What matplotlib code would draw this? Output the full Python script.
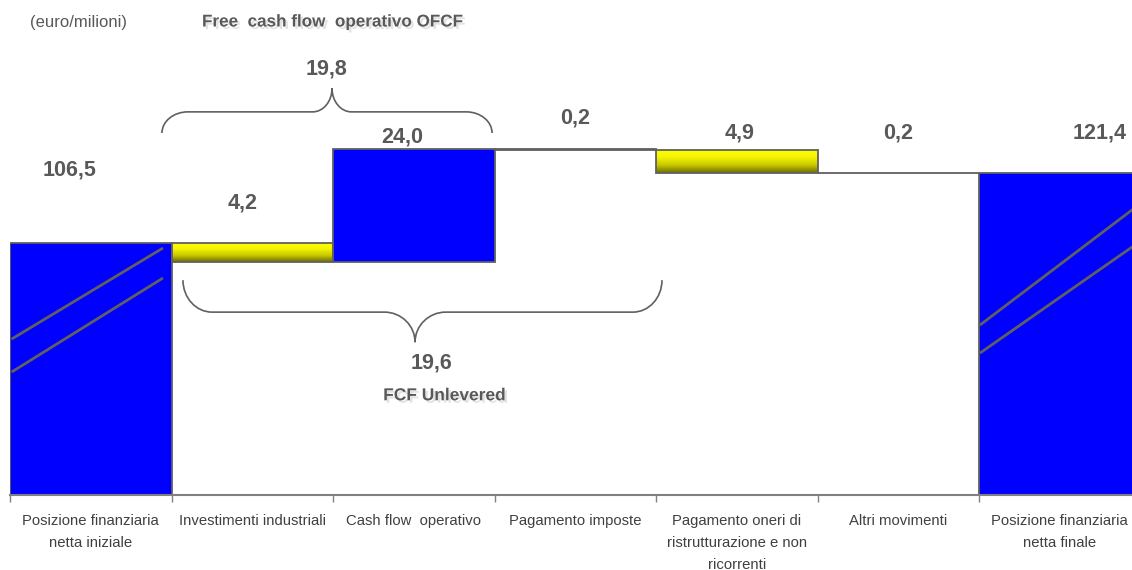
import numpy as np
import matplotlib
matplotlib.use("Agg")
import matplotlib.pyplot as plt
from matplotlib.patches import Rectangle, PathPatch
from matplotlib.path import Path
from matplotlib.colors import LinearSegmentedColormap
import matplotlib.patheffects as pe

plt.rcParams["font.family"] = ["Liberation Sans", "DejaVu Sans"]

# ── dati ────────────────────────────────────────────────
categories = [
    "Posizione finanziaria\nnetta iniziale",
    "Investimenti industriali",
    "Cash flow  operativo",
    "Pagamento imposte",
    "Pagamento oneri di\nristrutturazione e non\nricorrenti",
    "Altri movimenti",
    "Posizione finanziaria\nnetta finale",
]
values = [106.5, -4.2, 24.0, -0.2, -4.9, 0.2, 121.4]
is_total = [True, False, False, False, False, False, True]
ofcf_value = 19.8      # investimenti + cash flow operativo
fcf_unlev_value = 19.6  # fino al pagamento oneri

# posizioni etichette valori (coord. dati)
label_x = [-0.13, 0.94, 1.93, 3.0, 4.02, 5.0, 6.25]
label_y = [121.9, 114.9, 128.9, 133.0, 129.8, 129.8, 129.8]

BLUE = "#0000FF"
EDGE = "#606060"
TXT = "#595959"
yellow_cmap = LinearSegmentedColormap.from_list(
    "giallo", ["#6e6e00", "#c8c800", "#f5f500", "#ffff00"])


def fmt(v):
    return f"{abs(v):.1f}".replace(".", ",")


def brace(ax, x0, x1, xm, y_end, y_mid, y_tip, r_end, r_tip):
    k = 0.552
    verts = [
        (x0, y_end),
        (x0, y_end + k * (y_mid - y_end)), (x0 + (1 - k) * r_end, y_mid), (x0 + r_end, y_mid),
        (xm - r_tip, y_mid),
        (xm - r_tip + k * r_tip, y_mid), (xm, y_mid + (1 - k) * (y_tip - y_mid)), (xm, y_tip),
        (xm, y_mid + (1 - k) * (y_tip - y_mid)), (xm + r_tip - k * r_tip, y_mid), (xm + r_tip, y_mid),
        (x1 - r_end, y_mid),
        (x1 - (1 - k) * r_end, y_mid), (x1, y_end + k * (y_mid - y_end)), (x1, y_end),
    ]
    codes = [Path.MOVETO,
             Path.CURVE4, Path.CURVE4, Path.CURVE4,
             Path.LINETO,
             Path.CURVE4, Path.CURVE4, Path.CURVE4,
             Path.CURVE4, Path.CURVE4, Path.CURVE4,
             Path.LINETO,
             Path.CURVE4, Path.CURVE4, Path.CURVE4]
    ax.add_patch(PathPatch(Path(verts, codes), facecolor="none", edgecolor=EDGE,
                           lw=1.2, zorder=4))


fig = plt.figure(figsize=(11.32, 5.70), dpi=100)
ax = fig.add_axes([10 / 1132, 75.5 / 570, 1130.5 / 1132, 494.5 / 570])

ymin, ymax = 52.9, 158.1
x = np.arange(len(values))

# ── barre waterfall ─────────────────────────────────────
running = 0.0
for i, v in enumerate(values):
    if is_total[i]:
        bottom, top = 0.0, v
        running = v
        color = BLUE
    else:
        bottom, top = running, running + v
        running += v
        color = BLUE if v > 0 else None
    lo, hi = min(bottom, top), max(bottom, top)
    if color is not None:
        ax.add_patch(Rectangle((i - 0.5, lo), 1.0, hi - lo, facecolor=color,
                               edgecolor=EDGE, lw=1.3, zorder=2))
    else:
        rect = Rectangle((i - 0.5, lo), 1.0, hi - lo, facecolor="none",
                         edgecolor=EDGE, lw=1.3, zorder=3)
        ax.add_patch(rect)
        grad = np.linspace(0, 1, 64).reshape(-1, 1)
        im = ax.imshow(grad, extent=[i - 0.5, i + 0.5, lo, hi], origin="lower",
                       aspect="auto", cmap=yellow_cmap, zorder=2)
        im.set_clip_path(rect)

# linee di interruzione asse sulle barre totali
break_lines = [
    ([-0.49, 0.447], [85.97, 105.33]),
    ([-0.49, 0.447], [78.95, 98.95]),
    ([5.506, 6.5], [88.95, 114.8]),
    ([5.506, 6.5], [82.99, 106.8]),
]
for bx, by in break_lines:
    ax.plot(bx, by, color=EDGE, lw=2.0, solid_capstyle="butt", zorder=3)

# ── etichette valori ────────────────────────────────────
for v, lx, ly in zip(values, label_x, label_y):
    ax.text(lx, ly, fmt(v), ha="center", va="center", fontsize=15.5,
            fontweight="bold", color=TXT, zorder=5)

# ── graffe ──────────────────────────────────────────────
brace(ax, 0.441, 2.485, 1.494, 129.8, 134.3, 139.3, 0.16, 0.12)
ax.text(1.46, 143.4, fmt(ofcf_value), ha="center", va="center", fontsize=15.5,
        fontweight="bold", color=TXT)

brace(ax, 0.571, 3.537, 2.008, 98.5, 91.7, 85.3, 0.18, 0.19)
ax.text(2.11, 80.9, fmt(fcf_unlev_value), ha="center", va="center", fontsize=15.5,
        fontweight="bold", color=TXT)

shadow = [pe.SimplePatchShadow(offset=(1.8, -1.8), shadow_rgbFace="#b0b0b0", alpha=0.35),
          pe.Normal()]
ax.text(2.19, 73.9, "FCF Unlevered", ha="center", va="center", fontsize=12.5,
        fontweight="bold", color=TXT, path_effects=shadow)

fig.text(30 / 1132, 1 - 22 / 570, "(euro/milioni)", ha="left", va="center",
         fontsize=12, color=TXT)
fig.text(333 / 1132, 1 - 22 / 570, "Free  cash flow  operativo OFCF", ha="center",
         va="center", fontsize=12.3, fontweight="bold", color=TXT, path_effects=shadow)

# ── assi ────────────────────────────────────────────────
ax.set_xlim(-0.5, len(values) - 0.5)
ax.set_ylim(ymin, ymax)
for s in ("left", "right", "top"):
    ax.spines[s].set_visible(False)
ax.spines["bottom"].set_color("#808080")
ax.spines["bottom"].set_linewidth(1.5)
ax.set_yticks([])
ax.set_xticks(np.arange(len(values) + 1) - 0.5)
ax.set_xticklabels([])
ax.tick_params(axis="x", which="major", length=5, color="#808080", width=1)
ax.set_xticks(x, minor=True)
ax.set_xticklabels(categories, minor=True, fontsize=10.7, color="#404040",
                   linespacing=1.72)
ax.tick_params(axis="x", which="minor", length=0, pad=14)
ax.set_facecolor("white")

fig.savefig("out.png", dpi=100, facecolor="white")
